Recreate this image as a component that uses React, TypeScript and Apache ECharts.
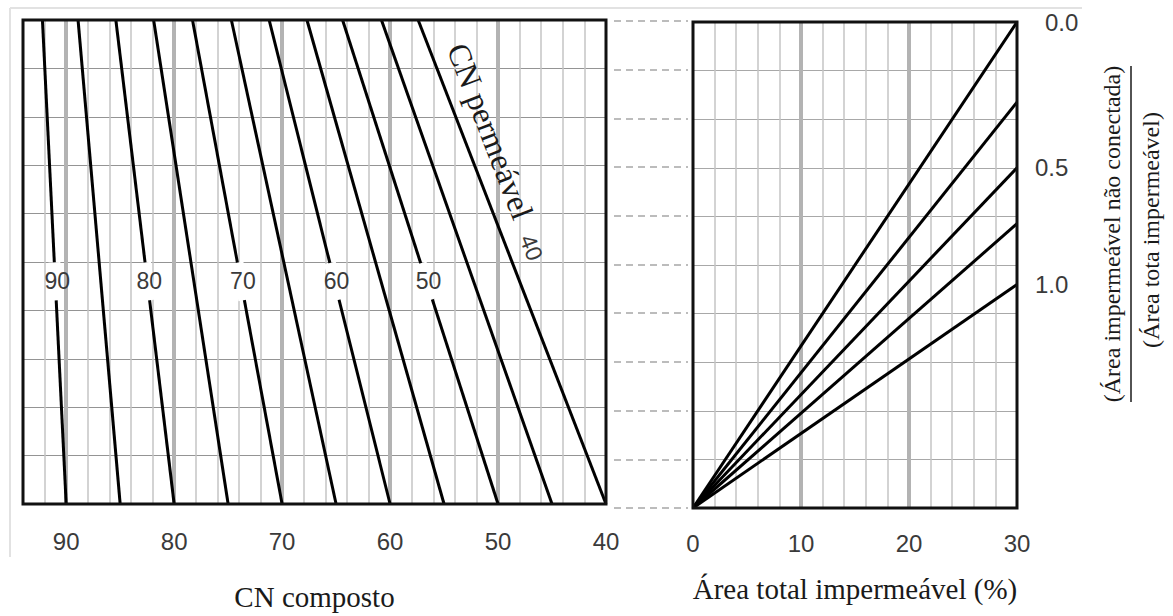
import React, { useEffect, useRef } from "react";
import * as echarts from "echarts";

// Left panel: pervious CN lines (bottom value -> composite CN at the top of the chart)
const PERVIOUS_CN = [90, 85, 80, 75, 70, 65, 60, 55, 50, 45, 40];
const COMPOSITE_CN_AT_TOP = [92.2, 88.9, 85.4, 81.9, 78.3, 74.7, 71.2, 67.7, 64.4, 60.8, 57.4];
const LABELLED_CN = [90, 80, 70, 60, 50];
const CN_MIN = 40;
const CN_MAX = 94;

// Right panel: ratio of unconnected to total impervious area
const RATIOS = [0, 0.25, 0.5, 0.75, 1.0];
const RATIO_END_LEVEL = [10, 8.35, 7.0, 5.85, 4.6];
const RATIO_LABELS = ["0.0", "", "0.5", "", "1.0"];
const IMPERVIOUS_MAX = 30;

// Shared vertical scale (grid divisions)
const LEVEL_MAX = 10;
const CN_LABEL_LEVEL = 4.6;
const PERMEAVEL_TEXT_LEVEL = 7.7;
const PERMEAVEL_NUM_LEVEL = 5.3;

const SANS = '"Liberation Sans", Arial, sans-serif';
const SERIF = '"Liberation Serif", "Times New Roman", serif';
const TICK_COLOR = "#3a3a3a";
const TITLE_COLOR = "#1a1a1a";

const LEFT = { left: 23, top: 20, width: 583, height: 488 };
const MID = { left: 614, top: 21, width: 74, height: 487 };
const RIGHT = { left: 693, top: 22, width: 324, height: 486 };

const lineAt = (i: number, level: number) =>
  PERVIOUS_CN[i] + ((COMPOSITE_CN_AT_TOP[i] - PERVIOUS_CN[i]) * level) / LEVEL_MAX;

const textStyle = (text: string, font: string, fill: string) => ({
  text,
  font,
  fill,
  align: "center",
  textAlign: "center",
  verticalAlign: "middle",
  textVerticalAlign: "middle",
});

export default function App() {
  const ref = useRef<HTMLDivElement>(null);

  useEffect(() => {
    if (!ref.current) return;
    const chart = echarts.init(ref.current, undefined, { renderer: "svg" });

    const minorV = { show: true, lineStyle: { color: "#c4c4c4", width: 1.5 } };
    const majorV = { show: true, showMinLine: false, showMaxLine: false, lineStyle: { color: "#b3b3b3", width: 4 } };
    const hidden = { show: false };

    const leftLines = PERVIOUS_CN.map((cn, i) => ({
      type: "line",
      name: `CN ${cn}`,
      xAxisIndex: 0,
      yAxisIndex: 0,
      data: [
        [cn, 0],
        [COMPOSITE_CN_AT_TOP[i], LEVEL_MAX],
      ],
      symbol: "none",
      silent: true,
      lineStyle: { color: "#000", width: 3 },
      z: 3,
    }));

    const rightLines = RATIOS.map((r, i) => ({
      type: "line",
      name: String(r),
      xAxisIndex: 2,
      yAxisIndex: 2,
      data: [
        [0, 0],
        [IMPERVIOUS_MAX, RATIO_END_LEVEL[i]],
      ],
      symbol: "none",
      silent: true,
      lineStyle: { color: "#000", width: 3 },
      z: 3,
      endLabel: {
        show: RATIO_LABELS[i] !== "",
        formatter: RATIO_LABELS[i],
        distance: i === 0 ? 28 : 18,
        color: TICK_COLOR,
        fontFamily: SANS,
        fontSize: 24,
      },
    }));

    const tickFmt = (v: number) => (Math.round(v) % 10 === 0 ? String(Math.round(v)) : "");

    const frameAndTitles = [
      { type: "line", silent: true, shape: { x1: 10, y1: 8, x2: 1082, y2: 8 }, style: { stroke: "#e2e2e2", lineWidth: 2 } },
      { type: "line", silent: true, shape: { x1: 10, y1: 8, x2: 10, y2: 557 }, style: { stroke: "#e2e2e2", lineWidth: 2 } },
      {
        type: "text",
        silent: true,
        x: 1112,
        y: 234,
        rotation: Math.PI / 2,
        style: textStyle("(Área impermeável não conectada)", `24px ${SERIF}`, TITLE_COLOR),
      },
      { type: "line", silent: true, shape: { x1: 1131, y1: 66, x2: 1131, y2: 402 }, style: { stroke: TITLE_COLOR, lineWidth: 1.5 } },
      {
        type: "text",
        silent: true,
        x: 1151,
        y: 230,
        rotation: Math.PI / 2,
        style: textStyle("(Área tota impermeável)", `24px ${SERIF}`, TITLE_COLOR),
      },
    ];

    const option = {
      animation: false,
      backgroundColor: "#fff",
      grid: [
        { ...LEFT, show: true, z: 10, borderColor: "#111", borderWidth: 3, backgroundColor: "transparent" },
        { ...MID, show: false },
        { ...RIGHT, show: true, z: 10, borderColor: "#111", borderWidth: 3, backgroundColor: "transparent" },
      ],
      xAxis: [
        {
          gridIndex: 0,
          type: "value",
          min: CN_MIN,
          max: CN_MAX,
          interval: 2,
          inverse: true,
          position: "bottom",
          axisLine: hidden,
          axisTick: hidden,
          axisLabel: { formatter: tickFmt, margin: 25, color: TICK_COLOR, fontFamily: SANS, fontSize: 24 },
          splitLine: minorV,
          name: "CN composto",
          nameLocation: "middle",
          nameGap: 78,
          nameTextStyle: { fontFamily: SERIF, fontSize: 29, color: TITLE_COLOR },
        },
        {
          gridIndex: 1,
          type: "value",
          min: 0,
          max: 1,
          axisLine: hidden,
          axisTick: hidden,
          axisLabel: hidden,
          splitLine: hidden,
        },
        {
          gridIndex: 2,
          type: "value",
          min: 0,
          max: IMPERVIOUS_MAX,
          interval: 2,
          position: "bottom",
          axisLine: hidden,
          axisTick: hidden,
          axisLabel: { formatter: tickFmt, margin: 23, color: TICK_COLOR, fontFamily: SANS, fontSize: 24 },
          splitLine: minorV,
          name: "Área total impermeável (%)",
          nameLocation: "middle",
          nameGap: 66,
          nameTextStyle: { fontFamily: SERIF, fontSize: 29, color: TITLE_COLOR },
        },
        {
          gridIndex: 0,
          type: "value",
          min: CN_MIN,
          max: CN_MAX,
          interval: 10,
          inverse: true,
          position: "top",
          axisLine: hidden,
          axisTick: hidden,
          axisLabel: hidden,
          splitLine: majorV,
        },
        {
          gridIndex: 2,
          type: "value",
          min: 0,
          max: IMPERVIOUS_MAX,
          interval: 10,
          position: "top",
          axisLine: hidden,
          axisTick: hidden,
          axisLabel: hidden,
          splitLine: majorV,
        },
      ],
      yAxis: [
        {
          gridIndex: 0,
          type: "value",
          min: 0,
          max: LEVEL_MAX,
          interval: 1,
          axisLine: hidden,
          axisTick: hidden,
          axisLabel: hidden,
          splitLine: { show: true, lineStyle: { color: "#949494", width: 1.2 } },
        },
        {
          gridIndex: 1,
          type: "value",
          min: 0,
          max: LEVEL_MAX,
          interval: 1,
          axisLine: hidden,
          axisTick: hidden,
          axisLabel: hidden,
          splitLine: { show: true, lineStyle: { color: "#a6a6a6", width: 1.5, type: [7, 5] } },
        },
        {
          gridIndex: 2,
          type: "value",
          min: 0,
          max: LEVEL_MAX,
          interval: 1,
          axisLine: hidden,
          axisTick: hidden,
          axisLabel: hidden,
          splitLine: { show: true, lineStyle: { color: "#a8a8a8", width: 1.2 } },
        },
      ],
      series: [...leftLines, ...rightLines],
      graphic: frameAndTitles,
    };

    chart.setOption(option as any);

    // In-line annotations on the left panel, placed through the panel's own scales
    const toPx = (x: number, y: number) =>
      chart.convertToPixel({ xAxisIndex: 0, yAxisIndex: 0 }, [x, y]) as unknown as number[];

    const annotations: any[] = [];
    LABELLED_CN.forEach((cn) => {
      const i = PERVIOUS_CN.indexOf(cn);
      const p0 = toPx(PERVIOUS_CN[i], 0);
      const p1 = toPx(COMPOSITE_CN_AT_TOP[i], LEVEL_MAX);
      const tilt = Math.atan2(p0[0] - p1[0], p0[1] - p1[1]);
      const c = toPx(lineAt(i, CN_LABEL_LEVEL), CN_LABEL_LEVEL);
      annotations.push({
        type: "rect",
        silent: true,
        z: 8,
        x: c[0],
        y: c[1],
        rotation: tilt,
        shape: { x: -6, y: -19, width: 12, height: 38 },
        style: { fill: "#fff" },
      });
      annotations.push({
        type: "text",
        silent: true,
        z: 9,
        x: c[0] + 2,
        y: c[1],
        style: textStyle(String(cn), `23px ${SANS}`, TICK_COLOR),
      });
    });

    const last = PERVIOUS_CN.length - 1;
    const q0 = toPx(PERVIOUS_CN[last], 0);
    const q1 = toPx(COMPOSITE_CN_AT_TOP[last], LEVEL_MAX);
    const slope = Math.atan2(q0[1] - q1[1], q0[0] - q1[0]);
    const t = toPx(lineAt(last, PERMEAVEL_TEXT_LEVEL), PERMEAVEL_TEXT_LEVEL);
    const n = toPx(lineAt(last, PERMEAVEL_NUM_LEVEL), PERMEAVEL_NUM_LEVEL);
    annotations.push({
      type: "text",
      silent: true,
      z: 9,
      x: t[0] + 29,
      y: t[1],
      rotation: -slope,
      style: textStyle("CN permeável", `32px ${SERIF}`, TITLE_COLOR),
    });
    annotations.push({
      type: "text",
      silent: true,
      z: 9,
      x: n[0] + 25,
      y: n[1],
      rotation: -slope,
      style: textStyle(String(PERVIOUS_CN[last]), `23px ${SANS}`, TICK_COLOR),
    });

    chart.setOption({ graphic: [...frameAndTitles, ...annotations] } as any);

    return () => chart.dispose();
  }, []);

  return <div ref={ref} style={{ position: "absolute", left: 0, top: 0, width: 1173, height: 616 }} />;
}
